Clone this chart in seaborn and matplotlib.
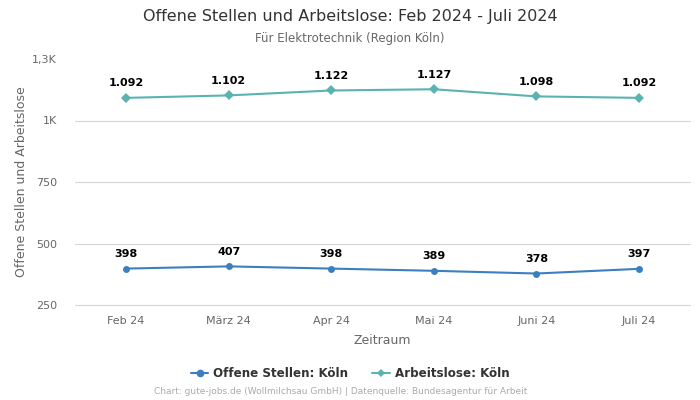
import matplotlib
matplotlib.use("Agg")
import matplotlib.pyplot as plt
import seaborn as sns
import pandas as pd

months = ["Feb 24", "März 24", "Apr 24", "Mai 24", "Juni 24", "Juli 24"]
offene_stellen = [398, 407, 398, 389, 378, 397]
arbeitslose = [1092, 1102, 1122, 1127, 1098, 1092]

y_ticks = [250, 500, 750, 1000, 1250]
y_tick_labels = ["250", "500", "750", "1K", "1,3K"]

blue = "#3b7fc0"
teal = "#5bb3b0"

sns.set_style("white")
plt.rcParams["font.family"] = ["DejaVu Sans"]

df = pd.DataFrame({
    "Zeitraum": list(range(len(months))) * 2,
    "Wert": offene_stellen + arbeitslose,
    "Serie": ["Offene Stellen: Köln"] * len(months) + ["Arbeitslose: Köln"] * len(months),
})

fig = plt.figure(figsize=(7, 4), dpi=100)
ax = fig.add_axes([0.107, 0.2375, 0.879, 0.615])

sns.lineplot(
    data=df, x="Zeitraum", y="Wert", hue="Serie", style="Serie",
    palette=[blue, teal], markers=["o", "D"], dashes=False,
    markersize=5, markeredgewidth=0, linewidth=1.5, ax=ax, legend=False,
)

for i, v in enumerate(offene_stellen):
    ax.annotate(str(v), (i, v), xytext=(0, 7), textcoords="offset points",
                ha="center", va="bottom", fontsize=8, fontweight="bold", color="black")
for i, v in enumerate(arbeitslose):
    ax.annotate(f"{v:,}".replace(",", "."), (i, v), xytext=(0, 7), textcoords="offset points",
                ha="center", va="bottom", fontsize=8, fontweight="bold", color="black")

ax.set_ylim(250, 1250)
ax.set_xlim(-0.5, len(months) - 0.5)
ax.set_yticks(y_ticks)
ax.set_yticklabels(y_tick_labels)
ax.set_xticks(range(len(months)))
ax.set_xticklabels(months)
ax.tick_params(axis="y", length=5, color="#cccccc", labelsize=8, labelcolor="#666666", pad=8)
ax.tick_params(axis="x", length=0, labelsize=8, labelcolor="#666666", pad=8)
ax.grid(axis="y", color="#d6d6d6", linewidth=0.8)
gl = ax.get_ygridlines()
for g in gl:
    g.set_clip_on(False)
gl[-1].set_visible(False)
for s in ax.spines.values():
    s.set_visible(False)

ax.set_xlabel("Zeitraum", fontsize=9, color="#666666", labelpad=6)
ax.set_ylabel("Offene Stellen und Arbeitslose", fontsize=9, color="#666666", labelpad=3)

fig.text(0.5, 0.958, "Offene Stellen und Arbeitslose: Feb 2024 - Juli 2024",
         ha="center", va="center", fontsize=11.5, color="#333333")
fig.text(0.5, 0.903, "Für Elektrotechnik (Region Köln)",
         ha="center", va="center", fontsize=8.5, color="#666666")

handles = [
    plt.Line2D([], [], color=blue, marker="o", markersize=5.5, linewidth=1.5, markeredgewidth=0),
    plt.Line2D([], [], color=teal, marker="D", markersize=4.5, linewidth=1.5, markeredgewidth=0),
]
fig.legend(handles, ["Offene Stellen: Köln", "Arbeitslose: Köln"], loc="center",
           bbox_to_anchor=(0.5, 0.067), ncol=2, frameon=False,
           prop={"weight": "bold", "size": 8.6}, labelcolor="#333333",
           handlelength=1.5, columnspacing=2.0, handletextpad=0.4)

fig.text(0.486, 0.02, "Chart: gute-jobs.de (Wollmilchsau GmbH) | Datenquelle: Bundesagentur für Arbeit",
         ha="center", va="center", fontsize=6.5, color="#aaaaaa")

fig.savefig("out.png", dpi=100)
